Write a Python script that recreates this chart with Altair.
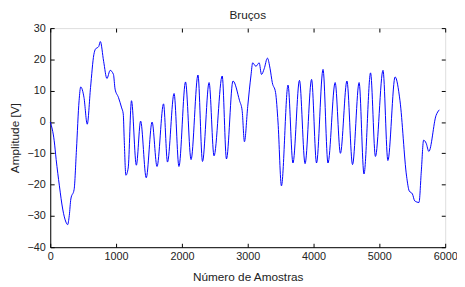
import altair as alt
import pandas as pd

samples = [0, 60, 90, 139, 189, 239, 264, 289, 313, 363, 398, 438, 463, 512, 562, 612, 662, 687,
           736, 761, 811, 861, 910, 960, 985, 1035, 1085, 1109, 1124, 1149, 1184, 1234, 1308, 1373,
           1458, 1547, 1622, 1721, 1781, 1881, 1955, 2055, 2139, 2244, 2313, 2413, 2488, 2612, 2677,
           2776, 2876, 2915, 2950, 3000, 3050, 3075, 3124, 3174, 3209, 3250, 3299, 3340, 3373, 3423,
           3460, 3512, 3612, 3687, 3786, 3871, 3970, 4045, 4144, 4219, 4328, 4408, 4507, 4592, 4692,
           4766, 4866, 4940, 5055, 5129, 5239, 5313, 5413, 5453, 5502, 5537, 5602, 5637, 5672, 5711,
           5751, 5861, 5910]
amplitude = [0, -6, -12, -20.4, -27.8, -32, -32.8, -29.9, -24.6, -21.5, -8.9, 6.8, 11.2, 7.9, -0.7,
             11, 21.5, 23.3, 24.1, 25.7, 19.4, 13.9, 16.5, 15.2, 10.5, 7.9, 4.5, 2.6, -5.8, -17,
             -14.7, 6.8, -13.8, 0.3, -17.8, 0, -14.2, 5.8, -12.8, 9.1, -14.2, 12.8, -12, 15, -12.6,
             12.6, -10.8, 14.7, -11.8, 13.1, 6.8, 3.7, -6.3, 5, 15, 18.9, 17.8, 18.9, 15.2, 17,
             20.4, 17, 12.6, 9.4, 0, -20.4, 11.8, -13.1, 13.3, -13.3, 13.6, -13.1, 16.8, -13.1,
             12.6, -10, 13.1, -13.6, 12.6, -16.6, 15.7, -11, 16.5, -12.3, 14.4, 6.8, -17.3, -22,
             -23, -25.2, -25.7, -15.7, -5.8, -6.8, -9.4, 2.1, 3.9]

x_ticks = [0, 1000, 2000, 3000, 4000, 5000, 6000]
y_ticks = [-40, -30, -20, -10, 0, 10, 20, 30]

df = pd.DataFrame({"n": samples, "v": amplitude})

W, H = 402, 223
FONT = "Liberation Sans"
TXT = "#222222"

xs = alt.Scale(domain=[0, 6000], nice=False, zero=False)
ys = alt.Scale(domain=[-40, 30], nice=False, zero=False)

main = alt.Chart(df).mark_line(color="#0000ff", strokeWidth=1, interpolate="monotone").encode(
    x=alt.X("n:Q", scale=xs, axis=alt.Axis(
        orient="bottom", values=x_ticks, ticks=False, grid=False, domain=True, domainColor="black",
        labelPadding=4, labelFontSize=11, labelFont=FONT, labelColor=TXT, format="d",
        title="Número de Amostras", titleFont=FONT, titleFontSize=12, titleFontWeight="normal",
        titleColor=TXT, titlePadding=10, labelFlush=False)),
    y=alt.Y("v:Q", scale=ys, axis=alt.Axis(
        orient="left", values=y_ticks, ticks=False, grid=False, domain=True, domainColor="black",
        labelPadding=5, labelFontSize=11, labelFont=FONT, labelColor=TXT, format="d",
        title="Amplitude [V]", titleFont=FONT, titleFontSize=12, titleFontWeight="normal",
        titleColor=TXT, titlePadding=6, labelFlush=False)),
)

def tick_layer(xorient, yorient):
    return alt.Chart(df).mark_line(opacity=0).encode(
        x=alt.X("n:Q", scale=xs, axis=alt.Axis(
            orient=xorient, offset=-H, values=x_ticks, labels=False, domain=False, grid=False,
            ticks=True, tickSize=4, tickColor="black", tickWidth=1, title=None)),
        y=alt.Y("v:Q", scale=ys, axis=alt.Axis(
            orient=yorient, offset=-W, values=y_ticks, labels=False, domain=False, grid=False,
            ticks=True, tickSize=4, tickColor="black", tickWidth=1, title=None)),
    )

chart = alt.layer(main, tick_layer("top", "right"), tick_layer("bottom", "left")).resolve_axis(
    x="independent", y="independent"
).properties(
    width=W, height=H,
    title=alt.TitleParams("Bruços", font=FONT, fontSize=12, fontWeight="normal", color=TXT, offset=0),
    autosize=alt.AutoSizeParams(type="none"),
    padding={"left": 43, "top": 18, "right": 12, "bottom": 36},
).configure_view(stroke="black", strokeWidth=1).configure(background="white")

chart.save("out.html", embed_options={"renderer": "svg", "actions": False})
